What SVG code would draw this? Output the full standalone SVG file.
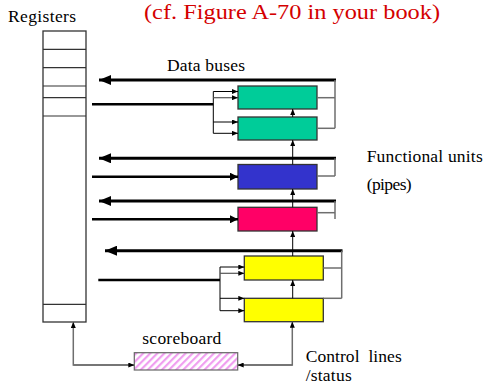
<svg xmlns="http://www.w3.org/2000/svg" width="485" height="384" viewBox="0 0 485 384">
<style>
text{font-family:"Liberation Serif","Times New Roman",serif;fill:#000}
.title{font-size:21px;fill:#d40000}
.lbl{font-size:17.5px;font-family:"Liberation Serif","Times New Roman",serif}
.fu{stroke:#333;stroke-width:1.3}
.bus{stroke:#000;stroke-width:3;fill:none}
.inp{stroke:#000;stroke-width:2.6;fill:none}
.thin{stroke:#000;stroke-width:1;fill:none}
.gray{stroke:#6e6e6e;stroke-width:1.5;fill:none}
.reg{fill:#fff;stroke:#333;stroke-width:1.3}
.row{stroke:#333;stroke-width:1.2}
</style>
<defs>
<marker id="big" viewBox="0 0 12 10" refX="12" refY="5" markerWidth="12" markerHeight="10" markerUnits="userSpaceOnUse" orient="auto"><path d="M0,0L12,5L0,10z" fill="#000"/></marker>
<marker id="mid" viewBox="0 0 8 8" refX="8" refY="4" markerWidth="8" markerHeight="8" markerUnits="userSpaceOnUse" orient="auto"><path d="M0,0L8,4L0,8z" fill="#000"/></marker>
<marker id="sm" viewBox="0 0 6 5" refX="6" refY="2.5" markerWidth="6" markerHeight="5" markerUnits="userSpaceOnUse" orient="auto"><path d="M0,0L6,2.5L0,5z" fill="#000"/></marker>
<pattern id="hatch" patternUnits="userSpaceOnUse" width="5" height="5" patternTransform="rotate(45)">
<rect width="5" height="5" fill="#fff"/><rect width="2.2" height="5" fill="#f09ef0"/>
</pattern>
</defs>

<text class="title" x="144" y="19" textLength="296" lengthAdjust="spacingAndGlyphs">(cf. Figure A-70 in your book)</text>

<g id="registers">
<rect class="reg" x="43" y="31" width="43" height="291"/>
<line class="row" x1="43" y1="49.3" x2="86" y2="49.3"/>
<line class="row" x1="43" y1="67.7" x2="86" y2="67.7"/>
<line class="row" x1="43" y1="86" x2="86" y2="86"/>
<line class="row" x1="43" y1="97.7" x2="86" y2="97.7"/>
<line class="row" x1="43" y1="116" x2="86" y2="116"/>
<line class="row" x1="43" y1="304.3" x2="86" y2="304.3"/>
<text class="lbl" x="8" y="21.5" textLength="68" lengthAdjust="spacing">Registers</text>
</g>

<g id="fu-green-1"><rect class="fu" x="238" y="86" width="79" height="23" fill="#00cc99"/></g>
<g id="fu-green-2"><rect class="fu" x="238" y="117" width="79" height="23" fill="#00cc99"/></g>
<g id="fu-blue"><rect class="fu" x="238" y="164.5" width="79" height="24.5" fill="#3333cc"/></g>
<g id="fu-red"><rect class="fu" x="238" y="207.3" width="79" height="23.7" fill="#ff0066"/></g>
<g id="fu-yellow-1"><rect class="fu" x="244.3" y="256" width="79" height="24" fill="#ffff00"/></g>
<g id="fu-yellow-2"><rect class="fu" x="244.3" y="298.3" width="79" height="23.4" fill="#ffff00"/></g>

<g id="scoreboard">
<rect x="134.3" y="352.7" width="103.4" height="17.3" fill="url(#hatch)" stroke="#666" stroke-width="1.2"/>
<text class="lbl" x="142.3" y="344" textLength="79" lengthAdjust="spacing">scoreboard</text>
</g>

<g id="labels">
<text class="lbl" x="167" y="71" textLength="78" lengthAdjust="spacing">Data buses</text>
<text class="lbl" x="366.7" y="161.5" textLength="116" lengthAdjust="spacing">Functional units</text>
<text class="lbl" x="366.7" y="190" textLength="45" lengthAdjust="spacing">(pipes)</text>
<text class="lbl" x="305.7" y="361.7" textLength="96" lengthAdjust="spacing" style="white-space:pre">Control  lines</text>
<text class="lbl" x="305.7" y="381" textLength="46" lengthAdjust="spacing">/status</text>
</g>

<g id="connectors">
<!-- data buses -->
<line class="bus" x1="336" y1="80" x2="99" y2="80" marker-end="url(#big)"/>
<line class="bus" x1="336" y1="158.3" x2="99" y2="158.3" marker-end="url(#big)"/>
<line class="bus" x1="336" y1="201" x2="99" y2="201" marker-end="url(#big)"/>
<line class="bus" x1="342.5" y1="250.7" x2="105" y2="250.7" marker-end="url(#big)"/>
<line class="gray" x1="335" y1="80" x2="335" y2="128.3"/>
<line class="gray" x1="335" y1="158.3" x2="335" y2="176"/>
<line class="gray" x1="335" y1="201" x2="335" y2="219"/>
<line class="gray" x1="341.7" y1="250.7" x2="341.7" y2="298.3"/>
<!-- feedback from units to buses -->
<line class="gray" x1="317" y1="97.7" x2="335" y2="97.7"/>
<line class="gray" x1="317" y1="128.3" x2="335" y2="128.3"/>
<line class="gray" x1="317" y1="176" x2="335" y2="176"/>
<line class="gray" x1="317" y1="212.7" x2="335" y2="212.7"/>
<line class="gray" x1="323.3" y1="268" x2="341.7" y2="268"/>
<line class="gray" x1="323.3" y1="298.3" x2="341.7" y2="298.3"/>
<!-- register outputs to units -->
<line class="inp" x1="92" y1="104.3" x2="213.3" y2="104.3"/>
<line class="thin" x1="213.3" y1="91.5" x2="213.3" y2="133.3"/>
<line class="thin" x1="213.3" y1="91.5" x2="238" y2="91.5" marker-end="url(#sm)"/>
<line x1="213.3" y1="97.7" x2="238" y2="97.7" stroke="#555" stroke-width="1.2" marker-end="url(#sm)"/>
<line class="thin" x1="213.3" y1="122" x2="238" y2="122" marker-end="url(#sm)"/>
<line class="thin" x1="213.3" y1="133.3" x2="238" y2="133.3" marker-end="url(#sm)"/>
<line class="inp" x1="92" y1="176.7" x2="238" y2="176.7" marker-end="url(#mid)"/>
<line class="inp" x1="92" y1="219.3" x2="238" y2="219.3" marker-end="url(#mid)"/>
<line class="inp" x1="98.3" y1="280" x2="220" y2="280"/>
<line class="thin" x1="220" y1="267" x2="220" y2="310.7"/>
<line class="thin" x1="220" y1="267" x2="244.3" y2="267" marker-end="url(#sm)"/>
<line x1="220" y1="273.3" x2="244.3" y2="273.3" stroke="#555" stroke-width="1.2" marker-end="url(#sm)"/>
<line class="thin" x1="220" y1="298.3" x2="244.3" y2="298.3" marker-end="url(#sm)"/>
<line class="thin" x1="220" y1="310.7" x2="244.3" y2="310.7" marker-end="url(#sm)"/>
<!-- pipeline chaining arrows -->
<line class="thin" x1="292.7" y1="117" x2="292.7" y2="109" marker-end="url(#sm)"/>
<line class="thin" x1="292.7" y1="164.5" x2="292.7" y2="140" marker-end="url(#sm)"/>
<line class="thin" x1="292.7" y1="207.3" x2="292.7" y2="189" marker-end="url(#sm)"/>
<line class="thin" x1="292.7" y1="256" x2="292.7" y2="231" marker-end="url(#sm)"/>
<line class="thin" x1="292.7" y1="298.3" x2="292.7" y2="280" marker-end="url(#sm)"/>
<!-- control lines -->
<polyline class="gray" points="134.3,365 73.3,365 73.3,322" marker-end="url(#sm)"/>
<line class="gray" x1="73.3" y1="365" x2="134.3" y2="365" marker-end="url(#sm)"/>
<polyline class="gray" points="237.7,365 292.3,365 292.3,321.7" marker-end="url(#sm)"/>
<line class="gray" x1="292.3" y1="365" x2="237.7" y2="365" marker-end="url(#sm)"/>
</g>
</svg>
